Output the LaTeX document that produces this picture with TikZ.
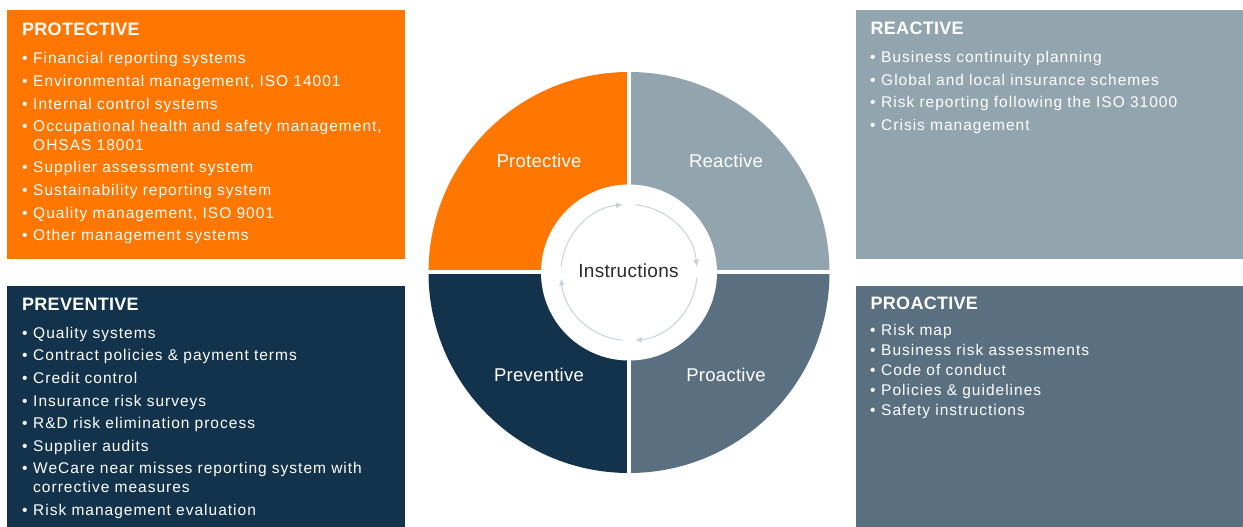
\documentclass[tikz,border=0pt]{standalone}
\usepackage{fontspec}
\setmainfont{Liberation Sans}
\newfontfamily\listfont[LetterSpace=6.5]{Liberation Sans}
\newfontfamily\headfont[LetterSpace=1.5]{Liberation Sans}
\usetikzlibrary{arrows.meta,calc}
\definecolor{cProt}{HTML}{FF7700}
\definecolor{cReac}{HTML}{92A4AE}
\definecolor{cPrev}{HTML}{12334B}
\definecolor{cProa}{HTML}{5A7081}
\definecolor{cArc}{HTML}{C8D2DA}
\definecolor{cInst}{HTML}{2B2B2B}
\newcommand{\itm}[1]{\par\noindent\hangindent=11bp\hangafter=1\makebox[11bp][l]{\textbullet}#1}
\tikzset{
  panel/.style={anchor=north west, inner sep=0pt, draw=none},
  headtext/.style={anchor=base west, inner sep=0pt, text=white, font=\headfont\bfseries\fontsize{18bp}{20bp}\selectfont},
  listtext/.style={anchor=base west, inner sep=0pt, text=white, text width=420bp,
    font=\listfont\fontsize{15.5bp}{18.5bp}\selectfont},
  wheellabel/.style={anchor=base, inner sep=0pt, text=white, font=\headfont\fontsize{18.5bp}{20bp}\selectfont},
  cyclearc/.style={draw=cArc, line width=1bp, -{Latex[length=7bp,width=6bp]}}
}
\begin{document}
\begin{tikzpicture}[x=1bp,y=-1bp]
\useasboundingbox (0,0) rectangle (1243,527);
\fill[white] (0,0) rectangle (1243,527);
% panels
\node[panel, fill=cProt, minimum width=398bp, minimum height=249bp] (protbox) at (7,10) {};
\node[panel, fill=cPrev, minimum width=398bp, minimum height=241bp] (prevbox) at (7,286) {};
\node[panel, fill=cReac, minimum width=387bp, minimum height=249bp] (reacbox) at (856,10) {};
\node[panel, fill=cProa, minimum width=387bp, minimum height=241bp] (proabox) at (856,286) {};
% headers
\node[headtext] (prothead) at (22,36) {PROTECTIVE};
\node[headtext] (prevhead) at (22,311) {PREVENTIVE};
\node[headtext] (reachead) at (870.5,35) {REACTIVE};
\node[headtext] (proahead) at (870.5,309.5) {PROACTIVE};
% lists
\node[listtext] (protlist) at (22,64) {\raggedright\setlength{\parskip}{4.1bp}\noindent\hangindent=11bp\hangafter=1\makebox[11bp][l]{\textbullet}Financial reporting systems%
\itm{Environmental management, ISO 14001}
\itm{Internal control systems}
\itm{Occupational health and safety management,\newline OHSAS 18001}
\itm{Supplier assessment system}
\itm{Sustainability reporting system}
\itm{Quality management, ISO 9001}
\itm{Other management systems}\par};
\node[listtext] (prevlist) at (22,338.3) {\raggedright\setlength{\parskip}{4.1bp}\noindent\hangindent=11bp\hangafter=1\makebox[11bp][l]{\textbullet}Quality systems%
\itm{Contract policies \& payment terms}
\itm{Credit control}
\itm{Insurance risk surveys}
\itm{R\&D risk elimination process}
\itm{Supplier audits}
\itm{WeCare near misses reporting system with\newline corrective measures}
\itm{Risk management evaluation}\par};
\node[listtext] (reaclist) at (870,62.8) {\raggedright\setlength{\parskip}{4.1bp}\noindent\hangindent=11bp\hangafter=1\makebox[11bp][l]{\textbullet}Business continuity planning%
\itm{Global and local insurance schemes}
\itm{Risk reporting following the ISO 31000}
\itm{Crisis management}\par};
\node[listtext] (proalist) at (870,336) {\raggedright\setlength{\parskip}{1.5bp}\noindent\hangindent=11bp\hangafter=1\makebox[11bp][l]{\textbullet}Risk map%
\itm{Business risk assessments}
\itm{Code of conduct}
\itm{Policies \& guidelines}
\itm{Safety instructions}\par};
% wheel
\coordinate (c) at (629,272.5);
\fill[cProt] (c) -- ++(-200.5,0) arc[start angle=180, end angle=270, radius=200.5] -- cycle;
\fill[cReac] (c) -- ++(0,-200.5) arc[start angle=270, end angle=360, radius=200.5] -- cycle;
\fill[cProa] (c) -- ++(200.5,0) arc[start angle=0, end angle=90, radius=200.5] -- cycle;
\fill[cPrev] (c) -- ++(0,200.5) arc[start angle=90, end angle=180, radius=200.5] -- cycle;
\draw[white, line width=4bp] ([xshift=-202bp]c) -- ([xshift=202bp]c);
\draw[white, line width=4bp] ([yshift=-202bp]c) -- ([yshift=202bp]c);
\fill[white] (c) circle[radius=88];
% cycle arcs
\draw[cyclearc] ($(c)+(-175:68)$) arc[start angle=-175, end angle=-95, radius=68];
\draw[cyclearc] ($(c)+(-85:68)$) arc[start angle=-85, end angle=-5, radius=68];
\draw[cyclearc] ($(c)+(5:68)$) arc[start angle=5, end angle=85, radius=68];
\draw[cyclearc] ($(c)+(95:68)$) arc[start angle=95, end angle=175, radius=68];
% wheel labels
\node[wheellabel] (lprot) at (539,168) {Protective};
\node[wheellabel] (lreac) at (726,168) {Reactive};
\node[wheellabel] (lprev) at (539,381.7) {Preventive};
\node[wheellabel] (lproa) at (726,381.7) {Proactive};
\node[wheellabel, text=cInst, font=\headfont\fontsize{19bp}{21bp}\selectfont] (linst) at (628.5,277.3) {Instructions};
\end{tikzpicture}
\end{document}
